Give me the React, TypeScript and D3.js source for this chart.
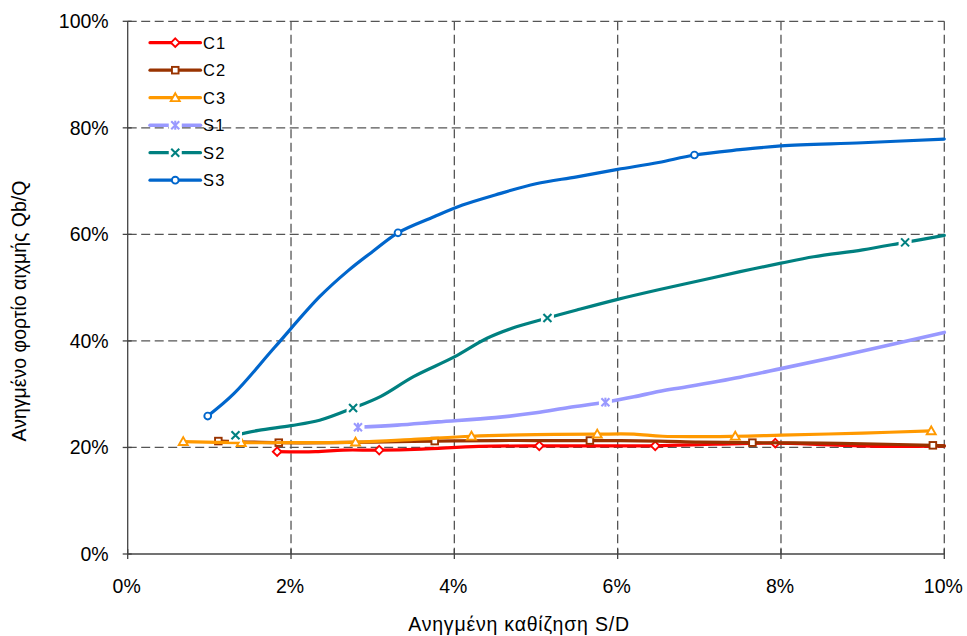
import React from "react";
import * as d3 from "d3";

const xTicks = [0, 2, 4, 6, 8, 10];
const yTicks = [0, 20, 40, 60, 80, 100];

const c1X = [1.83, 2.3, 2.64, 3.08, 3.6, 4.3, 5.04, 5.7, 6.46, 7.2, 7.93, 8.6, 9.3, 10];
const c1Y = [19.2, 19.2, 19.5, 19.5, 19.7, 20.2, 20.3, 20.3, 20.3, 20.6, 20.8, 20.5, 20.2, 20.3];
const c1Marks = [0, 3, 6, 8, 10];

const c2X = [1.11, 1.85, 2.5, 3.0, 3.76, 4.5, 5.0, 5.66, 6.5, 7.0, 7.65, 8.5, 9.3, 9.86, 10];
const c2Y = [21.2, 20.9, 20.9, 21.0, 21.2, 21.3, 21.3, 21.3, 21.2, 21.0, 20.9, 20.8, 20.6, 20.4, 20.3];
const c2Marks = [0, 1, 4, 7, 10, 13];

const c3X = [0.68, 1.39, 2.0, 2.79, 3.5, 4.21, 5.0, 5.75, 6.2, 6.55, 7.44, 8.0, 9.0, 9.84];
const c3Y = [21.1, 20.9, 20.9, 21.0, 21.5, 22.1, 22.4, 22.5, 22.5, 22.1, 22.1, 22.3, 22.7, 23.1];
const c3Marks = [0, 1, 3, 5, 7, 10, 13];

const s1X = [2.82, 3.3, 3.8, 4.5, 5.0, 5.4, 5.85, 6.2, 6.5, 6.85, 7.5, 8.0, 9.0, 10];
const s1Y = [23.8, 24.2, 24.8, 25.6, 26.5, 27.5, 28.5, 29.5, 30.5, 31.4, 33.2, 34.8, 38.1, 41.6];
const s1Marks = [0, 6];

const s2X = [1.32, 1.6, 2.0, 2.35, 2.76, 3.1, 3.5, 4.0, 4.4, 4.75, 5.14, 5.5, 6.0, 6.5, 7.0, 7.5, 8.0, 8.4, 9.0, 9.52, 10];
const s2Y = [22.3, 23.2, 24.1, 25.1, 27.4, 29.6, 33.3, 37.0, 40.5, 42.6, 44.3, 45.8, 47.8, 49.6, 51.3, 53.0, 54.6, 55.8, 57.1, 58.5, 59.8];
const s2Marks = [0, 4, 10, 19];

const s3X = [0.98, 1.3, 1.8, 2.35, 2.7, 3.0, 3.31, 3.75, 4.1, 4.5, 5.0, 5.5, 6.0, 6.5, 6.94, 7.5, 8.0, 9.0, 10];
const s3Y = [25.9, 30.1, 38.8, 48.3, 53.2, 56.8, 60.3, 63.3, 65.5, 67.4, 69.5, 70.8, 72.2, 73.5, 74.9, 75.9, 76.6, 77.2, 77.9];
const s3Marks = [0, 6, 14];

const seriesNames = ["C1", "C2", "C3", "S1", "S2", "S3"];
const seriesColors = ["#FF0000", "#993300", "#FF9900", "#9999FF", "#008080", "#0066CC"];
const seriesMarkers = ["diamond", "square", "triangle", "star", "x", "circle"];

const seriesData = [
  { xs: c1X, ys: c1Y, marks: c1Marks },
  { xs: c2X, ys: c2Y, marks: c2Marks },
  { xs: c3X, ys: c3Y, marks: c3Marks },
  { xs: s1X, ys: s1Y, marks: s1Marks },
  { xs: s2X, ys: s2Y, marks: s2Marks },
  { xs: s3X, ys: s3Y, marks: s3Marks },
];

const W = 967;
const H = 636;
const L = 127.7;
const R = 944.3;
const T = 21.3;
const B = 554;
const FONT = "Arial, 'Liberation Sans', sans-serif";

function Marker({ type, x, y, color }: { type: string; x: number; y: number; color: string }) {
  const sw = 1.9;
  if (type === "diamond") {
    const r = 4.3;
    return <path d={`M${x},${y - r}L${x + r},${y}L${x},${y + r}L${x - r},${y}Z`} fill="white" stroke={color} strokeWidth={sw} />;
  }
  if (type === "square") {
    const r = 3.3;
    return <rect x={x - r} y={y - r} width={2 * r} height={2 * r} fill="white" stroke={color} strokeWidth={sw} />;
  }
  if (type === "triangle") {
    const r = 4.5;
    return <path d={`M${x},${y - r}L${x + r},${y + r * 0.75}L${x - r},${y + r * 0.75}Z`} fill="white" stroke={color} strokeWidth={sw} />;
  }
  if (type === "circle") {
    return <circle cx={x} cy={y} r={3.4} fill="white" stroke={color} strokeWidth={sw} />;
  }
  if (type === "x" || type === "star") {
    const r = 4;
    return (
      <g>
        <rect x={x - 6.5} y={y - 6.5} width={13} height={13} fill="white" />
        <path d={`M${x - r},${y - r}L${x + r},${y + r}M${x - r},${y + r}L${x + r},${y - r}`} stroke={color} strokeWidth={2.1} fill="none" />
        {type === "star" && <path d={`M${x},${y - r - 0.5}L${x},${y + r + 0.5}`} stroke={color} strokeWidth={2.1} />}
      </g>
    );
  }
  return null;
}

export default function App() {
  const x = d3.scaleLinear().domain([0, 10]).range([L, R]);
  const y = d3.scaleLinear().domain([0, 100]).range([B, T]);
  const line = d3
    .line<[number, number]>()
    .x((d) => x(d[0]))
    .y((d) => y(d[1]))
    .curve(d3.curveCatmullRom.alpha(0.5));

  const legendX0 = 150;
  const legendX1 = 200.5;
  const legendY0 = 42.7;
  const legendStep = 27.5;

  return (
    <svg width={W} height={H} style={{ position: "absolute", left: 0, top: 0, background: "white" }}>
      <rect x={0} y={0} width={W} height={H} fill="white" />
      {yTicks.filter((t) => t > 0).map((t) => (
        <line key={"gy" + t} x1={L} x2={R} y1={y(t)} y2={y(t)} stroke="#555" strokeWidth={1.3} strokeDasharray="9,4.5" />
      ))}
      {xTicks.filter((t) => t > 0).map((t) => (
        <line key={"gx" + t} x1={x(t)} x2={x(t)} y1={T} y2={B} stroke="#555" strokeWidth={1.3} strokeDasharray="9,4.5" />
      ))}
      <line x1={L} x2={L} y1={T} y2={B} stroke="#444" strokeWidth={1.3} />
      <line x1={L} x2={R} y1={B} y2={B} stroke="#444" strokeWidth={1.3} />
      {yTicks.map((t) => (
        <line key={"ty" + t} x1={L - 5} x2={L + 4} y1={y(t)} y2={y(t)} stroke="#444" strokeWidth={1.3} />
      ))}
      {xTicks.map((t) => (
        <line key={"tx" + t} x1={x(t)} x2={x(t)} y1={B - 5} y2={B + 5} stroke="#444" strokeWidth={1.3} />
      ))}
      {yTicks.map((t) => (
        <text key={"ly" + t} x={L - 19} y={y(t)} dy="0.36em" textAnchor="end" fontFamily={FONT} fontSize={19.5} fill="#000">
          {t + "%"}
        </text>
      ))}
      {xTicks.map((t) => (
        <text key={"lx" + t} x={x(t) - 1} y={586} dy="0.36em" textAnchor="middle" fontFamily={FONT} fontSize={19.5} fill="#000">
          {t + "%"}
        </text>
      ))}
      <text x={519} y={624} dy="0.36em" textAnchor="middle" fontFamily={FONT} fontSize={19.5} letterSpacing={0.8} fill="#000">
        Ανηγμένη καθίζηση S/D
      </text>
      <text
        transform={`translate(19,311) rotate(-90)`}
        dy="0.36em"
        textAnchor="middle"
        fontFamily={FONT}
        fontSize={19.5}
        fill="#000"
      >
        Ανηγμένο φορτίο αιχμής Qb/Q
      </text>
      {seriesData.map((s, i) => {
        const pts = s.xs.map((v, k) => [v, s.ys[k]] as [number, number]);
        return (
          <g key={"s" + i}>
            <path d={line(pts) || ""} fill="none" stroke={seriesColors[i]} strokeWidth={i === 3 ? 3.6 : 3.2} strokeLinejoin="round" strokeLinecap="round" />
            {s.marks.map((k) => (
              <Marker key={k} type={seriesMarkers[i]} x={x(s.xs[k])} y={y(s.ys[k])} color={seriesColors[i]} />
            ))}
          </g>
        );
      })}
      {seriesNames.map((n, i) => {
        const ly = legendY0 + i * legendStep;
        return (
          <g key={"lg" + n}>
            <line x1={legendX0} x2={legendX1} y1={ly} y2={ly} stroke={seriesColors[i]} strokeWidth={i === 3 ? 3.6 : 3.2} strokeLinecap="round" />
            <Marker type={seriesMarkers[i]} x={(legendX0 + legendX1) / 2} y={ly} color={seriesColors[i]} />
            <text x={203} y={ly} dy="0.36em" fontFamily={FONT} fontSize={16.5} letterSpacing={1.2} fill="#000">
              {n}
            </text>
          </g>
        );
      })}
    </svg>
  );
}
